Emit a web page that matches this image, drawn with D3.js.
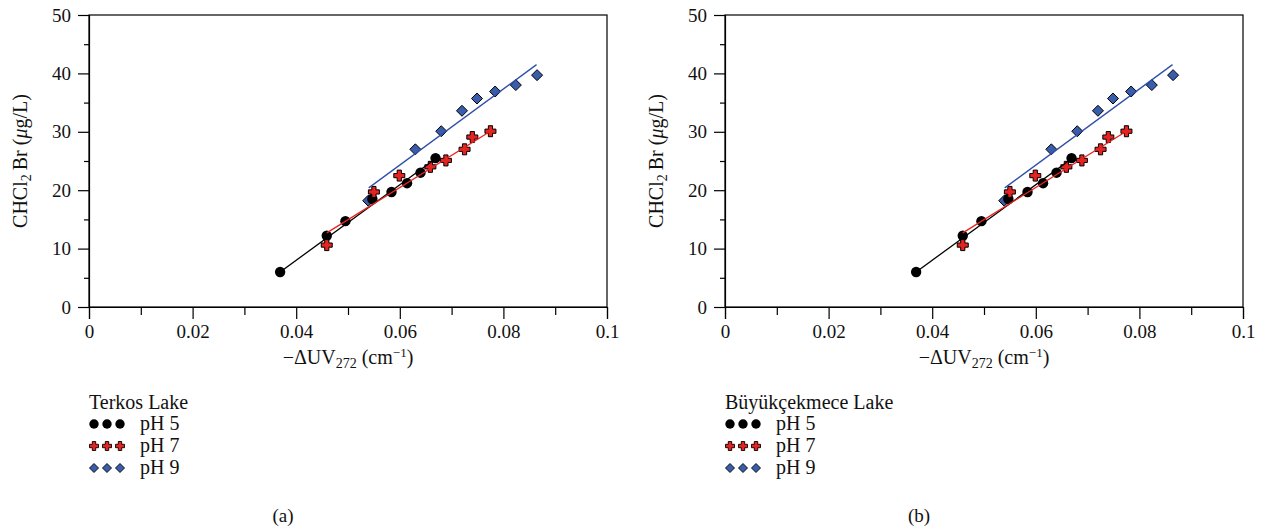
<!DOCTYPE html>
<html>
<head>
<meta charset="utf-8">
<script src="https://cdn.jsdelivr.net/npm/d3@7/dist/d3.min.js"></script>
<style>
  body { margin: 0; background: #fff; }
  svg text { font-family: "Liberation Serif", "DejaVu Serif", serif; fill: #111; }
</style>
</head>
<body>
<script>
// data (both lakes show the same points)
const lakes = ['Terkos Lake', 'Büyükçekmece Lake']
const captions = ['(a)', '(b)']
const xTicks = [0, 0.02, 0.04, 0.06, 0.08, 0.1]
const xMinor = [0.01, 0.03, 0.05, 0.07, 0.09]
const yTicks = [0, 10, 20, 30, 40, 50]
const yMinor = [5, 15, 25, 35, 45]
const seriesNames = ['pH 5', 'pH 7', 'pH 9']

const ph5X = [0.0369, 0.0459, 0.0495, 0.0547, 0.0584, 0.0614, 0.0640, 0.0669]
const ph5Y = [6.0, 12.2, 14.7, 18.5, 19.7, 21.2, 23.0, 25.5]
const ph7X = [0.0459, 0.0550, 0.0599, 0.0659, 0.0689, 0.0725, 0.0740, 0.0775]
const ph7Y = [10.6, 19.7, 22.5, 24.0, 25.1, 27.0, 29.1, 30.1]
const ph9X = [0.0539, 0.0630, 0.0680, 0.0720, 0.0749, 0.0784, 0.0824, 0.0865]
const ph9Y = [18.2, 27.0, 30.1, 33.6, 35.7, 36.9, 38.0, 39.7]

// fitted lines, start and end
const fit5X = [0.0369, 0.0669], fit5Y = [6.0, 25.4]
const fit7X = [0.0459, 0.0775], fit7Y = [12.7, 30.1]
const fit9X = [0.0540, 0.0864], fit9Y = [20.4, 41.5]

const size = { width: 1264, height: 531, panelOffset: 636 }
const plot = { left: 89, right: 607, top: 15, bottom: 307 }
const col = { black: '#000', red: '#e52421', blue: '#3a5dab', blueLine: '#3050a8' }
const serif = '"Liberation Serif", "DejaVu Serif", serif'
const fs = { tick: 19, label: 20, legend: 20 }

const crossPath = (s, a) => `M${-a},${-s}H${a}V${-a}H${s}V${a}H${a}V${s}H${-a}V${a}H${-s}V${-a}H${-a}Z`
const diamondPath = (s) => `M0,${-s}L${s},0L0,${s}L${-s},0Z`

const svg = d3.select('body').append('svg')
    .attr('width', size.width)
    .attr('height', size.height)

const xScale = d3.scaleLinear().domain([0, 0.1]).range([plot.left, plot.right])
const yScale = d3.scaleLinear().domain([0, 50]).range([plot.bottom, plot.top])

const zip = (xs, ys) => xs.map((x, i) => [x, ys[i]])

lakes.forEach((lake, p) => {
    const g = svg.append('g').attr('transform', `translate(${p * size.panelOffset},0)`)

    // frame
    g.append('rect')
     .attr('x', plot.left).attr('y', plot.top)
     .attr('width', plot.right - plot.left).attr('height', plot.bottom - plot.top)
     .attr('fill', 'none').attr('stroke', '#000').attr('stroke-width', 1.2)

    // x axis
    const xAxis = d3.axisBottom(xScale).tickValues(xTicks).tickSize(12).tickPadding(6)
        .tickFormat(d => d === 0 ? '0' : d3.format('.2~f')(d))
    const gx = g.append('g').attr('transform', `translate(0,${plot.bottom})`).call(xAxis)
    g.append('g').attr('transform', `translate(0,${plot.bottom})`)
     .call(d3.axisBottom(xScale).tickValues(xMinor).tickSize(8).tickFormat(''))
     .select('.domain').remove()

    // y axis
    const yAxis = d3.axisLeft(yScale).tickValues(yTicks).tickSize(11).tickPadding(7)
    const gy = g.append('g').attr('transform', `translate(${plot.left},0)`).call(yAxis)
    g.append('g').attr('transform', `translate(${plot.left},0)`)
     .call(d3.axisLeft(yScale).tickValues(yMinor).tickSize(5).tickFormat(''))
     .select('.domain').remove()

    g.selectAll('.domain').attr('stroke-width', 1.2)
    g.selectAll('.tick line').attr('stroke-width', 1.2)
    ;[gx, gy].forEach(ax => {
        ax.attr('font-family', serif).attr('font-size', fs.tick)
        ax.selectAll('text').attr('fill', '#111').style('font-family', serif).style('font-size', fs.tick + 'px')
    })

    // axis titles
    const xl = g.append('text')
        .attr('x', (plot.left + plot.right) / 2).attr('y', 364)
        .attr('text-anchor', 'middle').attr('font-size', fs.label)
    xl.append('tspan').text('\u2212\u0394UV')
    xl.append('tspan').attr('font-size', 14).attr('dy', 4).text('272')
    xl.append('tspan').attr('dy', -4).text(' (cm')
    xl.append('tspan').attr('font-size', 13).attr('dy', -7).text('\u22121')
    xl.append('tspan').attr('dy', 7).text(')')

    const yl = g.append('text')
        .attr('transform', `translate(27,${(plot.top + plot.bottom) / 2}) rotate(-90)`)
        .attr('text-anchor', 'middle').attr('font-size', fs.label)
    yl.append('tspan').text('CHCl')
    yl.append('tspan').attr('font-size', 14).attr('dy', 4).text('2')
    yl.append('tspan').attr('dy', -4).text('\u2009Br (')
    yl.append('tspan').attr('font-style', 'italic').text('\u03bc')
    yl.append('tspan').text('g/L)')

    const line = d3.line().x(d => xScale(d[0])).y(d => yScale(d[1]))
    const marks = g.append('g')

    // markers
    marks.selectAll('.dia').data(zip(ph9X, ph9Y)).enter().append('path')
         .attr('d', diamondPath(5.5))
         .attr('transform', d => `translate(${xScale(d[0])},${yScale(d[1])})`)
         .attr('fill', col.blue).attr('stroke', '#000').attr('stroke-width', 1)
    marks.selectAll('.dot').data(zip(ph5X, ph5Y)).enter().append('circle')
         .attr('cx', d => xScale(d[0])).attr('cy', d => yScale(d[1]))
         .attr('r', 5.2).attr('fill', col.black)
    marks.selectAll('.cross').data(zip(ph7X, ph7Y)).enter().append('path')
         .attr('d', crossPath(5.5, 2.1))
         .attr('transform', d => `translate(${xScale(d[0])},${yScale(d[1])})`)
         .attr('fill', col.red).attr('stroke', '#000').attr('stroke-width', 1)

    // fit lines
    marks.append('path').datum(zip(fit5X, fit5Y)).attr('d', line)
         .attr('stroke', col.black).attr('stroke-width', 1.3).attr('fill', 'none')
    marks.append('path').datum(zip(fit7X, fit7Y)).attr('d', line)
         .attr('stroke', col.red).attr('stroke-width', 1.3).attr('fill', 'none')
    marks.append('path').datum(zip(fit9X, fit9Y)).attr('d', line)
         .attr('stroke', col.blueLine).attr('stroke-width', 1.3).attr('fill', 'none')

    // legend
    const lg = g.append('g').attr('transform', `translate(${plot.left},0)`)
    lg.append('text').attr('x', 0).attr('y', 409).attr('font-size', fs.legend).text(lake)
    const rowY = [424, 446, 468]
    seriesNames.forEach((name, i) => {
        const row = lg.append('g').attr('transform', `translate(0,${rowY[i]})`)
        ;[5, 18, 31].forEach(mx => {
            if (i === 0) row.append('circle').attr('cx', mx).attr('cy', 0).attr('r', 4.7).attr('fill', '#000')
            if (i === 1) row.append('path').attr('d', crossPath(4.5, 1.7)).attr('transform', `translate(${mx},0)`)
                            .attr('fill', col.red).attr('stroke', '#000').attr('stroke-width', 0.9)
            if (i === 2) row.append('path').attr('d', diamondPath(4.5)).attr('transform', `translate(${mx},0)`)
                            .attr('fill', col.blue).attr('stroke', '#000').attr('stroke-width', 0.9)
        })
        row.append('text').attr('x', 51).attr('y', 6).attr('font-size', fs.legend).text(name)
    })

    g.append('text').attr('x', 283).attr('y', 522).attr('text-anchor', 'middle')
     .attr('font-size', 19).text(captions[p])
})
</script>
</body>
</html>
